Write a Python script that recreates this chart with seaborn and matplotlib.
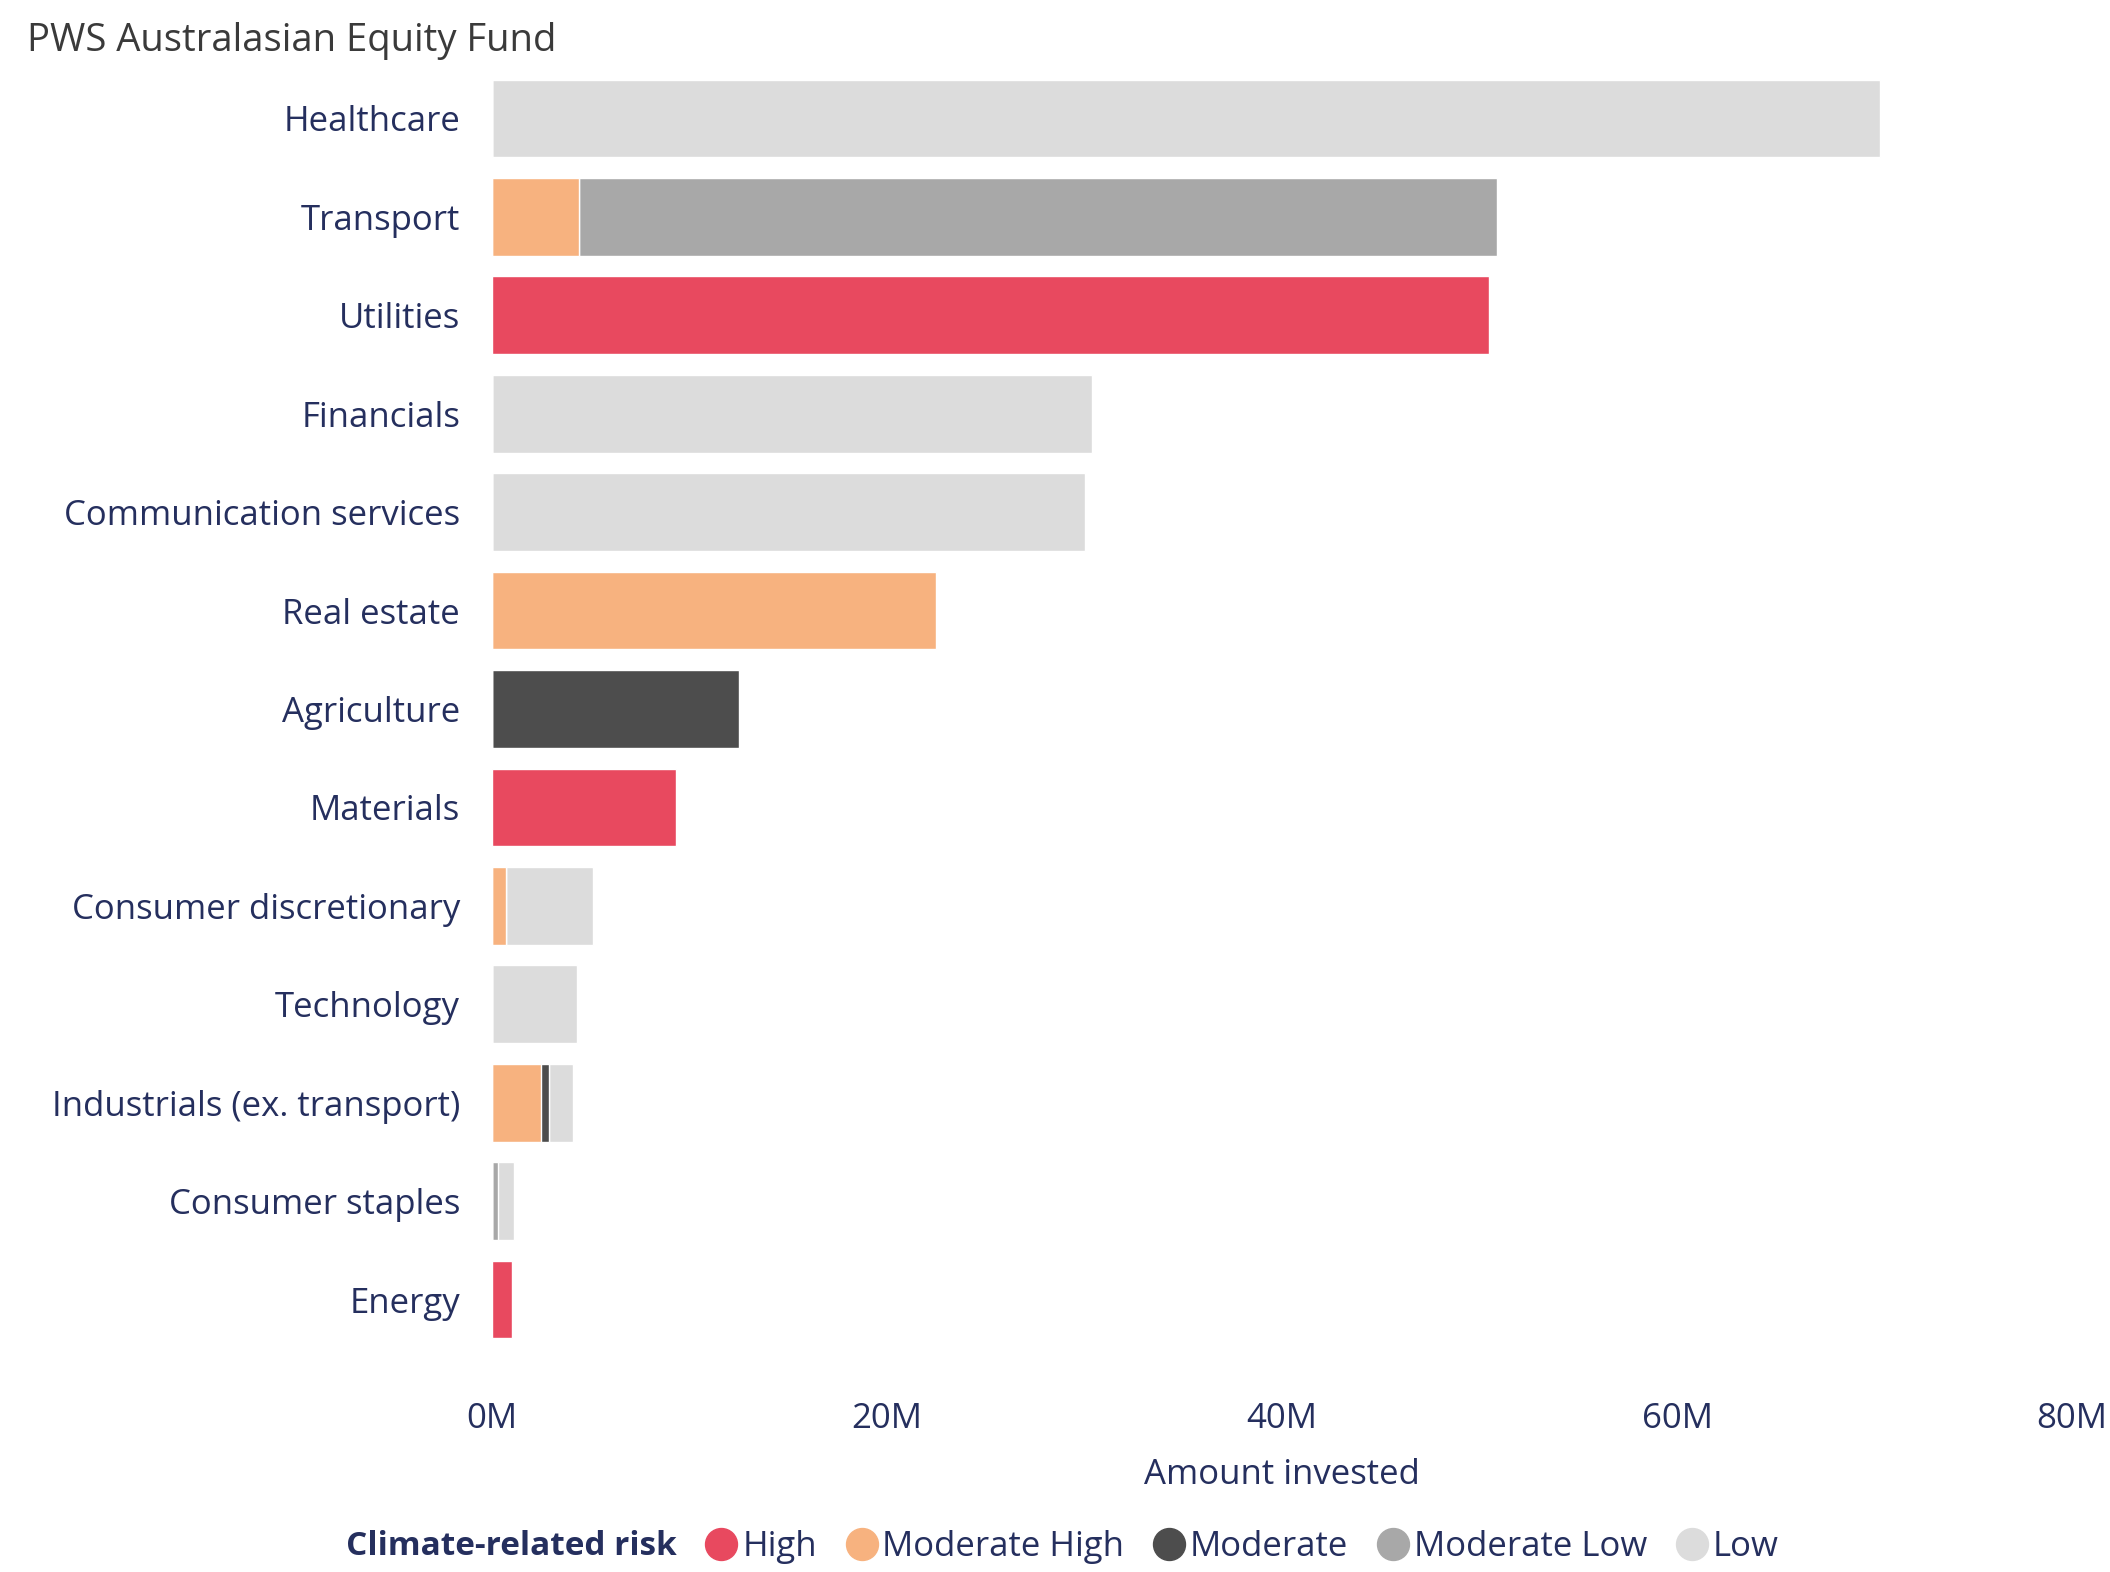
import matplotlib
matplotlib.use("Agg")
import matplotlib.pyplot as plt
from matplotlib.lines import Line2D
import numpy as np
import pandas as pd
import seaborn as sns

# Holdings by sector, in millions, split by climate-related risk level
sectors = ["Healthcare", "Transport", "Utilities", "Financials",
           "Communication services", "Real estate", "Agriculture", "Materials",
           "Consumer discretionary", "Technology", "Industrials (ex. transport)",
           "Consumer staples", "Energy"]
high = [0, 0, 50.5, 0, 0, 0, 0, 9.3, 0, 0, 0, 0, 1.0]
moderate_high = [0, 4.4, 0, 0, 0, 22.5, 0, 0, 0.7, 0, 2.5, 0, 0]
moderate = [0, 0, 0, 0, 0, 0, 12.5, 0, 0, 0, 0.4, 0, 0]
moderate_low = [0, 46.5, 0, 0, 0, 0, 0, 0, 0, 0, 0, 0.3, 0]
low = [70.3, 0, 0, 30.4, 30.0, 0, 0, 0, 4.4, 4.3, 1.2, 0.8, 0]

levels = ["High", "Moderate High", "Moderate", "Moderate Low", "Low"]
colors = ["#E8495F", "#F7B27F", "#4D4D4D", "#A8A8A8", "#DCDCDC"]
x_ticks = [0, 20, 40, 60, 80]
x_tick_labels = ["0M", "20M", "40M", "60M", "80M"]

sns.set_theme(style="white")
plt.rcParams["font.family"] = ["Open Sans", "DejaVu Sans"]

navy = "#252F5E"
fs = 25

df = pd.DataFrame({"sector": sectors, "High": high, "Moderate High": moderate_high,
                   "Moderate": moderate, "Moderate Low": moderate_low, "Low": low})
cum = df[levels].cumsum(axis=1)

fig = plt.figure(figsize=(21.1, 15.72), dpi=100)
ax = fig.add_axes([0.2332, 0.142, 0.982 - 0.2332, 0.956 - 0.142])

# Stacked bars: draw cumulative totals from the outermost level inward
for lvl, col in reversed(list(zip(levels, colors))):
    sns.barplot(x=cum[lvl], y=df["sector"], order=sectors, color=col,
                orient="h", width=0.79, saturation=1, ax=ax)

ax.set_xlim(0, 80)
ax.set_xticks(x_ticks)
ax.set_xticklabels(x_tick_labels)
ax.set_ylim(len(sectors) - 0.5, -0.5)
ax.set_ylabel("")
ax.set_xlabel("Amount invested", fontsize=fs, color=navy, labelpad=16)
for s in ax.spines.values():
    s.set_visible(False)
ax.tick_params(axis="x", length=0, pad=38, labelsize=fs, labelcolor=navy)
ax.tick_params(axis="y", length=0, pad=23, labelsize=fs, labelcolor=navy)
ax.grid(False)

fig.text(0.0128, 0.974, "PWS Australasian Equity Fund", fontsize=27.5,
         color="#3A3A3A", ha="left", va="center")

# Legend
fig.text(0.164, 0.016, "Climate-related risk", fontsize=24, fontweight="bold",
         color=navy, ha="left", va="center")
handles = [Line2D([], [], marker="o", linestyle="", markersize=23,
                  markerfacecolor=c, markeredgecolor=c) for c in colors]
fig.legend(handles, levels, loc="center left", bbox_to_anchor=(0.332, 0.016),
           ncol=5, frameon=False, fontsize=fs, handletextpad=0.0,
           columnspacing=0.69, handlelength=1.2, labelcolor=navy,
           borderaxespad=0, borderpad=0)

fig.savefig("out.png", dpi=100)
